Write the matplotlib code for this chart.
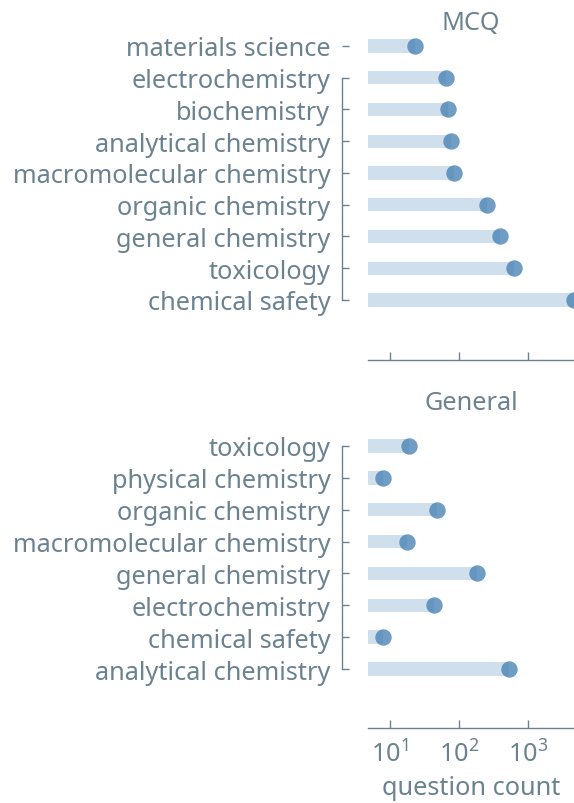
import numpy as np
import matplotlib
matplotlib.use("Agg")
import matplotlib.pyplot as plt

# question counts per topic, read in plotting order (top to bottom)
mcq_topics = ["materials science", "electrochemistry", "biochemistry",
              "analytical chemistry", "macromolecular chemistry",
              "organic chemistry", "general chemistry", "toxicology",
              "chemical safety"]
mcq_counts = [23, 65, 69, 77, 85, 257, 392, 622, 4550]

gen_topics = ["toxicology", "physical chemistry", "organic chemistry",
              "macromolecular chemistry", "general chemistry",
              "electrochemistry", "chemical safety", "analytical chemistry"]
gen_counts = [19, 8, 48, 18, 181, 44, 8, 522]

TXT = "#6b8290"
BLUE = "#4682b4"
FS = 18.2
plt.rcParams["font.family"] = ["Noto Sans", "DejaVu Sans"]
plt.rcParams["mathtext.fontset"] = "custom"
plt.rcParams["mathtext.rm"] = "Noto Sans"
plt.rcParams["font.size"] = FS

W, H = 574, 804
fig = plt.figure(figsize=(W / 100, H / 100), dpi=100)


def px(left, top, right, bottom):
    return [left / W, 1 - bottom / H, (right - left) / W, (bottom - top) / H]


ax1 = fig.add_axes(px(368, 31.1, 574, 361))
ax2 = fig.add_axes(px(368, 431, 574, 729), sharex=ax1)


def lollipop(ax, topics, counts, ylow):
    y = np.arange(len(topics))
    ax.barh(y, counts, left=1e-3, height=0.42, color=BLUE, alpha=0.25,
            linewidth=0)
    ax.scatter(counts, y, s=140, color=BLUE, alpha=0.78, linewidths=0,
               zorder=3)
    ax.set_yticks(y)
    ax.set_yticklabels(topics)
    ax.set_ylim(ylow, -0.5)
    for s in ["top", "right"]:
        ax.spines[s].set_visible(False)
    ax.spines["left"].set_position(("outward", 19))
    for s in ["left", "bottom"]:
        ax.spines[s].set_color(TXT)
        ax.spines[s].set_linewidth(1.0)
    ax.tick_params(axis="both", direction="in", colors=TXT, labelcolor=TXT,
                   labelsize=FS, width=1.0)
    ax.tick_params(axis="y", length=5, pad=8)
    ax.tick_params(axis="x", which="major", length=6, pad=9)
    ax.tick_params(axis="x", which="minor", length=0)


lollipop(ax1, mcq_topics, mcq_counts, 9.89)
lollipop(ax2, gen_topics, gen_counts, 8.85)

ax1.set_xscale("log")
ax1.set_xlim(4.89, 4550)
ax1.spines["left"].set_bounds(1, len(mcq_topics) - 1)
ax2.spines["left"].set_bounds(0, len(gen_topics) - 1)
ax1.tick_params(axis="x", labelbottom=False)

xc = ax1.get_position().x0 + ax1.get_position().width / 2
fig.text(xc, 1 - 30 / H, "MCQ", ha="center", va="baseline", color=TXT,
         fontsize=FS)
fig.text(xc, 1 - 410 / H, "General", ha="center", va="baseline", color=TXT,
         fontsize=FS)
# x label sits close to the bottom edge
fig.text(xc, 1 - 795 / H, "question count", ha="center", va="baseline",
         color=TXT, fontsize=FS)

fig.savefig("out.png", dpi=100)
